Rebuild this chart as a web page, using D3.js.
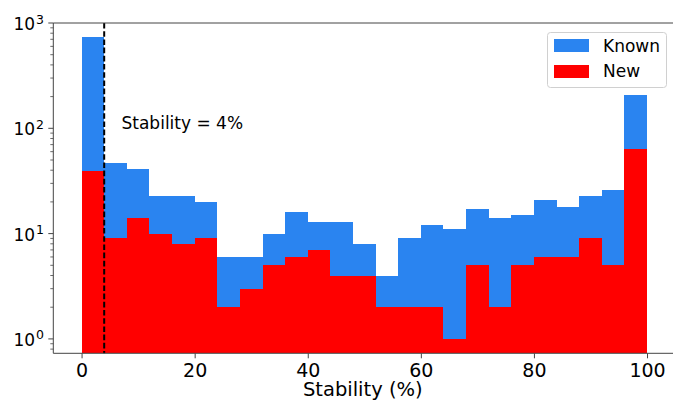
<!DOCTYPE html>
<html>
<head>
<meta charset="utf-8">
<script src="https://cdn.jsdelivr.net/npm/d3@7"></script>
<style>
  body { margin: 0; background: #fff; }
  svg { font-family: "DejaVu Sans", sans-serif; display: block; }
</style>
</head>
<body>
<svg width="673" height="403"></svg>
<script>
// histogram bins (Stability %), width 4
var binStarts = [0, 4, 8, 12, 16, 20, 24, 28, 32, 36, 40, 44, 48, 52, 56, 60, 64, 68, 72, 76, 80, 84, 88, 92, 96];
var binWidth = 4;
var knownCounts = [731, 47, 41, 23, 23, 20, 6, 6, 10, 16, 13, 13, 8, 4, 9, 12, 11, 17, 14, 15, 21, 18, 23, 26, 206];
var newCounts = [39, 9, 14, 10, 8, 9, 2, 3, 5, 6, 7, 4, 4, 2, 2, 2, 1, 5, 2, 5, 6, 6, 9, 5, 63];
var xTicks = [0, 20, 40, 60, 80, 100];
var yTicks = [1, 10, 100, 1000];
var yExponents = ["0", "1", "2", "3"];
var threshold = 4;

var svg = d3.select("svg");
var plotLeft = 53.3, plotRight = 675.3, plotTop = 23, plotBottom = 353.3;

var x = d3.scaleLinear().domain([-5, 105]).range([plotLeft, plotRight]);
var y = d3.scaleLog().domain([0.73, 1000]).range([plotBottom, plotTop]);

var blue = "#2a84f0", red = "#ff0000";

function drawBars(counts, color) {
  svg.append("g")
    .selectAll("rect")
    .data(counts)
    .enter().append("rect")
      .attr("x", function(d, i) { return x(binStarts[i]); })
      .attr("width", function(d, i) { return x(binStarts[i] + binWidth) - x(binStarts[i]); })
      .attr("y", function(d) { return y(d); })
      .attr("height", function(d) { return plotBottom - y(d); })
      .attr("fill", color)
      .attr("shape-rendering", "crispEdges");
}
drawBars(knownCounts, blue);
drawBars(newCounts, red);

// threshold line
svg.append("line")
  .attr("x1", x(threshold)).attr("x2", x(threshold))
  .attr("y1", plotTop).attr("y2", plotBottom)
  .attr("stroke", "#000")
  .attr("stroke-width", 2)
  .attr("stroke-dasharray", "5.6,2.6");

svg.append("text")
  .attr("x", 121.5).attr("y", 129)
  .style("font-size", "17px")
  .text("Stability = 4%");

// spines
var spine = "#444";
svg.append("line").attr("x1", plotLeft).attr("x2", 673).attr("y1", plotTop).attr("y2", plotTop)
  .attr("stroke", spine).attr("stroke-width", 1);
svg.append("line").attr("x1", plotLeft).attr("x2", 673).attr("y1", plotBottom).attr("y2", plotBottom)
  .attr("stroke", spine).attr("stroke-width", 1);
svg.append("line").attr("x1", plotLeft).attr("x2", plotLeft).attr("y1", plotTop).attr("y2", plotBottom)
  .attr("stroke", spine).attr("stroke-width", 1);

// x axis
var xAxis = d3.axisBottom(x).tickValues(xTicks).tickSize(5).tickPadding(5);
var gx = svg.append("g").attr("transform", "translate(0," + plotBottom + ")").call(xAxis);
gx.select(".domain").remove();
gx.selectAll(".tick line").attr("stroke", spine);
gx.selectAll(".tick text")
  .attr("font-family", "DejaVu Sans")
  .style("font-size", "19px")
  .attr("fill", "#000")
  .attr("dy", null)
  .attr("y", 23.5);

svg.append("text")
  .attr("x", (x(-5) + x(105)) / 2 - 1.5)
  .attr("y", 396)
  .attr("text-anchor", "middle")
  .style("font-size", "19.5px")
  .text("Stability (%)");

// y axis: minor ticks
var minor = [];
[0.1, 1, 10, 100].forEach(function(p) {
  for (var k = 2; k <= 9; k++) {
    var v = k * p;
    if (v >= 0.73 && v < 1000) minor.push(v);
  }
});
svg.append("g").selectAll("line")
  .data(minor)
  .enter().append("line")
    .attr("x1", plotLeft - 3).attr("x2", plotLeft)
    .attr("y1", function(d) { return y(d); })
    .attr("y2", function(d) { return y(d); })
    .attr("stroke", spine).attr("stroke-width", 0.8);

var gy = svg.append("g");
gy.selectAll("line")
  .data(yTicks)
  .enter().append("line")
    .attr("x1", plotLeft - 5).attr("x2", plotLeft)
    .attr("y1", function(d) { return y(d); })
    .attr("y2", function(d) { return y(d); })
    .attr("stroke", spine).attr("stroke-width", 1);

var ylab = gy.selectAll("text")
  .data(yTicks)
  .enter().append("text")
    .attr("x", 44)
    .attr("y", function(d) { return y(d) + 7; })
    .attr("text-anchor", "end");
ylab.append("tspan").style("font-size", "17px").text("10");
ylab.append("tspan")
  .style("font-size", "12.5px")
  .attr("dx", 1)
  .attr("dy", -6.5)
  .text(function(d, i) { return yExponents[i]; });

// legend
var lg = svg.append("g");
lg.append("rect")
  .attr("x", 547.5).attr("y", 32.5).attr("width", 119).attr("height", 55)
  .attr("rx", 3)
  .attr("fill", "#fff").attr("fill-opacity", 0.8)
  .attr("stroke", "#d0d0d0");
var legendItems = [{ label: "Known", color: blue }, { label: "New", color: red }];
lg.selectAll(".item")
  .data(legendItems)
  .enter().append("rect")
    .attr("x", 554).attr("y", function(d, i) { return 39 + i * 26; })
    .attr("width", 35).attr("height", 13)
    .attr("fill", function(d) { return d.color; });
lg.selectAll("text")
  .data(legendItems)
  .enter().append("text")
    .attr("x", 603)
    .attr("y", function(d, i) { return 51.5 + i * 25.5; })
    .style("font-size", "17px")
    .text(function(d) { return d.label; });
</script>
</body>
</html>
